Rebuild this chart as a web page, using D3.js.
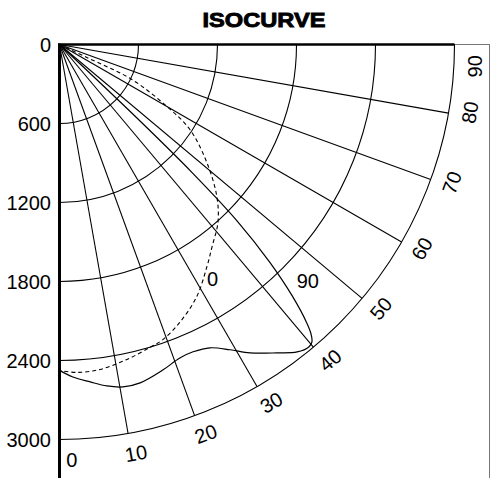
<!DOCTYPE html>
<html>
<head>
<meta charset="utf-8">
<script src="https://cdn.jsdelivr.net/npm/d3@7"></script>
<style>
  body { margin: 0; background: #fff; }
  text { font-family: "Liberation Sans", Arial, sans-serif; }
</style>
</head>
<body>
<script>
// valores de la isocurva
var radialTicks = [0, 600, 1200, 1800, 2400, 3000]
var angleTicks = [0, 10, 20, 30, 40, 50, 60, 70, 80, 90]
// angulo donde se coloca cada etiqueta de angulo
var angleTicksPos = [1.7, 10.6, 20.6, 30.6, 40.6, 50.6, 60.6, 70.6, 80.6, 87]

// curva "0" (discontinua)
var curva0Angulo = [65, 64.7, 64.2, 60.0, 56.9, 51.3, 46.0, 41.7, 37.1, 33.6, 28.6, 23.4, 19.3, 16.7, 12.1, 7.1, 3.0, 0]
var curva0Valor = [0, 230, 610, 942, 1182, 1434, 1661, 1809, 1922, 2024, 2179, 2300, 2375, 2400, 2446, 2487, 2494, 2475]

// curva "90" (continua)
var curva90Angulo = [47, 46.5, 46, 45.2, 44, 42.8, 41.6, 41.0, 40.3, 39.5, 37.7, 35.2, 31.7, 29.2, 26.4, 23.5, 21, 17.6, 13.4, 10.5, 7.9, 5.2, 2.3, 0]
var curva90Valor = [0, 800, 1400, 1900, 2300, 2600, 2830, 2911, 2964, 2977, 2951, 2866, 2753, 2656, 2572, 2545, 2550, 2594, 2642, 2645, 2618, 2573, 2527, 2475]

// etiquetas de las curvas
var etiquetas = ["0", "90"]
var etiquetasAngulo = [33.2, 46.4]
var etiquetasValor = [2124, 2605]

var width = 490
var height = 478
var origen = {x: 59.5, y: 44.5}

var escalaR = d3.scaleLinear().domain([0, 3000]).range([0, 395])
var escalaA = d3.scaleLinear().domain([0, 90]).range([0, Math.PI / 2])

// posicion en pantalla a partir de angulo y radio en pixeles
function punto(a, r) {
    return [origen.x + r * Math.sin(escalaA(a)), origen.y + r * Math.cos(escalaA(a))]
}

var svg = d3.select("body").append("svg")
    .attr("width", width)
    .attr("height", height)

// titulo
svg.append("text")
    .attr("x", 264)
    .attr("y", 27)
    .attr("text-anchor", "middle")
    .attr("font-family", "'DejaVu Sans Condensed', 'DejaVu Sans', sans-serif")
    .attr("font-weight", "bold")
    .attr("font-size", 21)
    .attr("stroke", "#000")
    .attr("stroke-width", 0.9)
    .attr("textLength", 123)
    .attr("lengthAdjust", "spacingAndGlyphs")
    .text("ISOCURVE")

// marco gris
svg.append("rect")
    .attr("x", origen.x)
    .attr("y", origen.y)
    .attr("width", 430)
    .attr("height", 460)
    .attr("fill", "none")
    .attr("stroke", "#777")
    .attr("stroke-width", 1)

var g = svg.append("g").attr("transform", "translate(" + origen.x + "," + origen.y + ")")

// arcos
var arco = d3.arc()
    .innerRadius(d => escalaR(d))
    .outerRadius(d => escalaR(d))
    .startAngle(Math.PI / 2)
    .endAngle(Math.PI)

g.selectAll(".arco")
    .data(radialTicks.slice(1))
    .enter()
    .append("path")
    .attr("class", "arco")
    .attr("d", arco)
    .attr("fill", "none")
    .attr("stroke", "#000")
    .attr("stroke-width", 1.1)

// radios
g.selectAll(".radio")
    .data(angleTicks)
    .enter()
    .append("line")
    .attr("class", "radio")
    .attr("x1", 0)
    .attr("y1", 0)
    .attr("x2", d => escalaR(3000) * Math.sin(escalaA(d)))
    .attr("y2", d => escalaR(3000) * Math.cos(escalaA(d)))
    .attr("stroke", "#000")
    .attr("stroke-width", 1.1)

// curvas
var linea = d3.lineRadial()
    .angle(d => Math.PI - escalaA(d[0]))
    .radius(d => escalaR(d[1]))
    .curve(d3.curveCatmullRom)

var datos0 = curva0Angulo.map((a, i) => [a, curva0Valor[i]])
var datos90 = curva90Angulo.map((a, i) => [a, curva90Valor[i]])

g.append("path")
    .attr("d", linea(datos0))
    .attr("fill", "none")
    .attr("stroke", "#000")
    .attr("stroke-width", 1.1)
    .attr("stroke-dasharray", "4,3")

g.append("path")
    .attr("d", linea(datos90))
    .attr("fill", "none")
    .attr("stroke", "#000")
    .attr("stroke-width", 1.2)

// ejes gruesos
svg.append("line")
    .attr("x1", origen.x).attr("y1", origen.y - 1)
    .attr("x2", origen.x).attr("y2", height)
    .attr("stroke", "#000").attr("stroke-width", 3)

svg.append("line")
    .attr("x1", origen.x - 1.5).attr("y1", origen.y)
    .attr("x2", origen.x + escalaR(3000)).attr("y2", origen.y)
    .attr("stroke", "#000").attr("stroke-width", 2.5)

// etiquetas eje radial
svg.selectAll(".tickR")
    .data(radialTicks)
    .enter()
    .append("text")
    .attr("class", "tickR")
    .attr("x", 51)
    .attr("y", d => origen.y + escalaR(d))
    .attr("text-anchor", "end")
    .attr("dominant-baseline", "central")
    .attr("font-size", 20)
    .text(d => d)

// etiquetas de angulo
svg.selectAll(".tickA")
    .data(angleTicks)
    .enter()
    .append("text")
    .attr("class", "tickA")
    .attr("transform", function (d, i) {
        var p = punto(angleTicksPos[i], escalaR(3000) + 21)
        return "translate(" + p[0] + "," + p[1] + ") rotate(" + (-d) + ")"
    })
    .attr("text-anchor", "middle")
    .attr("dominant-baseline", "central")
    .attr("font-size", 20)
    .text(d => d)

// etiquetas de curvas
svg.selectAll(".etiq")
    .data(etiquetas)
    .enter()
    .append("text")
    .attr("class", "etiq")
    .attr("x", (d, i) => punto(etiquetasAngulo[i], escalaR(etiquetasValor[i]))[0])
    .attr("y", (d, i) => punto(etiquetasAngulo[i], escalaR(etiquetasValor[i]))[1])
    .attr("text-anchor", "middle")
    .attr("dominant-baseline", "central")
    .attr("font-size", 20)
    .text(d => d)
</script>
</body>
</html>
